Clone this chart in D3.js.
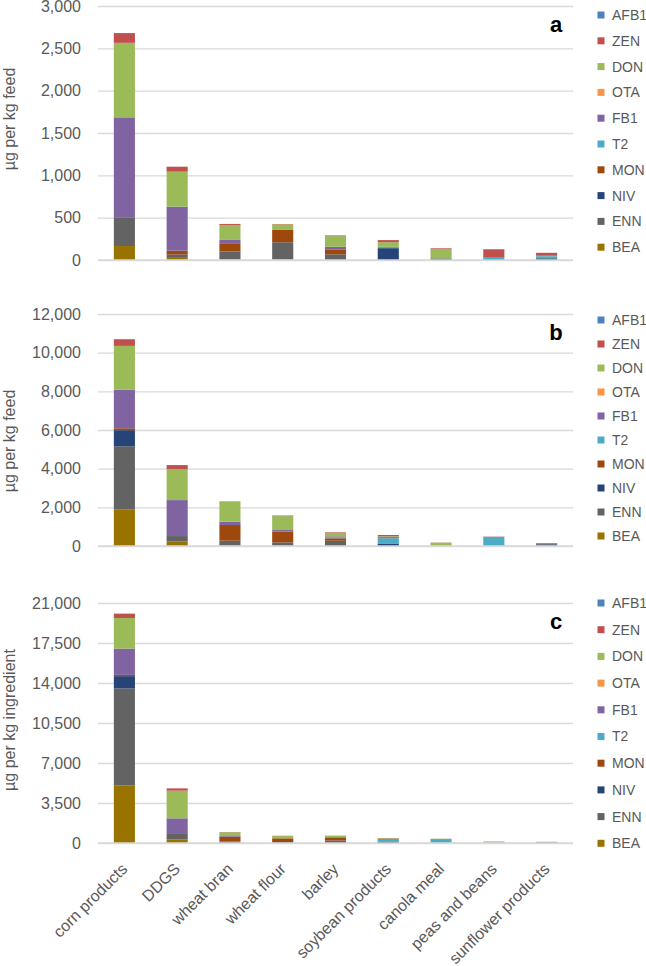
<!DOCTYPE html>
<html><head><meta charset="utf-8">
<script src="https://cdn.jsdelivr.net/npm/d3@7"></script>
<style>
html,body{margin:0;padding:0;background:#fff;}
svg{display:block;font-family:"Liberation Sans",Arial,sans-serif;}
</style></head>
<body><svg id="c" width="646" height="966"></svg>
<script>
const categories = ["corn products","DDGS","wheat bran","wheat flour","barley","soybean products","canola meal","peas and beans","sunflower products"];
// stacking order bottom -> top
const seriesNames = ["BEA","ENN","NIV","MON","T2","FB1","OTA","DON","ZEN","AFB1"];
const seriesColors = ["#997300","#636363","#264478","#9E480E","#4BACC6","#8064A2","#F79646","#9BBB59","#C0504D","#4F81BD"];
const legendOrder = ["AFB1","ZEN","DON","OTA","FB1","T2","MON","NIV","ENN","BEA"];

// panel a (µg per kg feed), rows follow seriesNames
const valuesA = [
  [165, 35, 5, 5, 0, 0, 0, 0, 0],        // BEA
  [340, 25, 95, 205, 67, 0, 0, 0, 0],    // ENN
  [0, 5, 0, 0, 0, 140, 18, 10, 20],      // NIV
  [0, 45, 90, 145, 59, 0, 0, 0, 0],      // MON
  [0, 0, 0, 0, 0, 15, 0, 25, 25],        // T2
  [1180, 520, 47, 0, 30, 0, 0, 0, 0],    // FB1
  [0, 0, 0, 0, 0, 0, 0, 0, 0],           // OTA
  [880, 413, 177, 65, 126, 55, 108, 0, 5], // DON
  [115, 59, 12, 5, 8, 25, 12, 90, 35],   // ZEN
  [0, 0, 0, 0, 0, 0, 0, 5, 0]            // AFB1
];
// panel b (µg per kg feed)
const valuesB = [
  [1900, 225, 10, 10, 0, 0, 0, 0, 0],
  [3260, 290, 265, 180, 270, 0, 0, 0, 90],
  [830, 0, 0, 0, 0, 130, 15, 10, 30],
  [100, 0, 810, 550, 130, 0, 0, 0, 0],
  [0, 0, 0, 0, 40, 270, 0, 420, 0],
  [2000, 1860, 170, 86, 60, 60, 0, 0, 0],
  [0, 0, 0, 0, 0, 0, 0, 0, 0],
  [2260, 1600, 1030, 720, 180, 40, 155, 0, 0],
  [345, 210, 20, 30, 30, 70, 10, 50, 30],
  [0, 0, 0, 0, 0, 0, 0, 5, 0]
];
// panel c (µg per kg ingredient)
const valuesC = [
  [5050, 320, 0, 0, 0, 0, 0, 0, 0],
  [8470, 470, 130, 80, 230, 0, 0, 0, 40],
  [1080, 0, 0, 0, 0, 130, 15, 0, 30],
  [110, 0, 420, 330, 210, 0, 0, 0, 0],
  [0, 0, 0, 0, 85, 220, 330, 30, 0],
  [2300, 1370, 60, 0, 0, 0, 0, 0, 10],
  [0, 0, 0, 0, 0, 0, 0, 0, 0],
  [2680, 2420, 330, 200, 95, 60, 20, 80, 0],
  [380, 200, 20, 20, 20, 30, 10, 20, 20],
  [0, 0, 0, 0, 0, 0, 0, 0, 0]
];
const ticksA = [0,500,1000,1500,2000,2500,3000];
const ticksB = [0,2000,4000,6000,8000,10000,12000];
const ticksC = [0,3500,7000,10500,14000,17500,21000];
const titles = ["µg per kg feed","µg per kg feed","µg per kg ingredient"];
const letters = ["a","b","c"];

const svg = d3.select("#c");
const x = d3.scaleBand().domain(categories).range([98,573]).paddingInner(0.6).paddingOuter(0.3);
const colorOf = d3.scaleOrdinal().domain(seriesNames).range(seriesColors);
const fmt = d3.format(",");

const panels = [
  {vals: valuesA, ticks: ticksA, y0: 260, y1: 6, titleY: 119, letterY: 32, legTop: 15, legStep: 25.8},
  {vals: valuesB, ticks: ticksB, y0: 546, y1: 314, titleY: 441, letterY: 340, legTop: 320, legStep: 24},
  {vals: valuesC, ticks: ticksC, y0: 843, y1: 603, titleY: 720, letterY: 629, legTop: 603, legStep: 26.7}
];

panels.forEach((p, pi) => {
  const g = svg.append("g");
  const y = d3.scaleLinear().domain([0, d3.max(p.ticks)]).range([p.y0, p.y1]);
  // gridlines & tick labels via axis
  const ax = d3.axisLeft(y).tickValues(p.ticks).tickFormat(fmt).tickSize(-(573-98)).tickPadding(17);
  const axg = g.append("g").attr("transform","translate(98,0)").call(ax);
  axg.select(".domain").remove();
  axg.selectAll(".tick line").attr("stroke","#d9d9d9").attr("stroke-width",1.3);
  axg.selectAll(".tick text").attr("fill","#595959").style("font-size","16px").style("font-family","Liberation Sans, Arial, sans-serif");

  // stacked bars
  const rows = categories.map((c, ci) => {
    const o = {cat: c};
    seriesNames.forEach((s, si) => o[s] = p.vals[si][ci]);
    return o;
  });
  const stack = d3.stack().keys(seriesNames)(rows);
  g.selectAll("g.s").data(stack).join("g").attr("fill", d => colorOf(d.key))
    .selectAll("rect").data(d => d).join("rect")
    .attr("x", d => x(d.data.cat))
    .attr("width", x.bandwidth())
    .attr("y", d => y(d[1]))
    .attr("height", d => Math.max(0, y(d[0]) - y(d[1])));

  // baseline
  g.append("line").attr("x1",98).attr("x2",573).attr("y1",y(0)).attr("y2",y(0)).attr("stroke","#d9d9d9").attr("stroke-width",1.3);

  // y title
  g.append("text").attr("transform",`translate(15,${p.titleY}) rotate(-90)`)
    .attr("text-anchor","middle").attr("fill","#595959").style("font-size","16px").text(titles[pi]);

  // panel letter
  g.append("text").attr("x",556).attr("y",p.letterY).attr("text-anchor","middle")
    .style("font-size","22px").style("font-weight","bold").attr("fill","#000").text(letters[pi]);

  // legend
  const lg = g.append("g");
  legendOrder.forEach((s, i) => {
    const cy = p.legTop + i * p.legStep;
    lg.append("rect").attr("x",597.5).attr("y",cy-3.5).attr("width",7).attr("height",7).attr("fill",colorOf(s));
    lg.append("text").attr("x",612).attr("y",cy).attr("dy","0.35em").attr("fill","#595959")
      .style("font-size","14px").text(s);
  });

  // category labels (bottom panel only)
  if (pi === 2) {
    g.selectAll("text.cat").data(categories).join("text").attr("class","cat")
      .attr("transform", d => `translate(${x(d) + x.bandwidth()/2 + 4},870) rotate(-45)`)
      .attr("text-anchor","end").attr("fill","#595959").style("font-size","16px").text(d => d);
  }
});
</script></body></html>
